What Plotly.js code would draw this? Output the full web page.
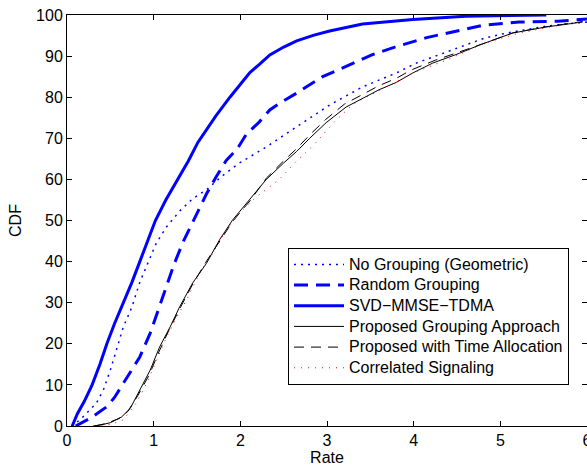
<!DOCTYPE html>
<html>
<head>
<meta charset="utf-8">
<script src="https://cdn.plot.ly/plotly-3.0.1.min.js"></script>
<style>
html,body{margin:0;padding:0;overflow:hidden;background:#fff}
#chart{width:587px;height:466px}
.legendtext{font-size:16px !important}
</style>
</head>
<body>
<div id="chart"></div>
<script>
// Legend names
const seriesNames = ["No Grouping (Geometric)", "Random Grouping", "SVD\u2212MMSE\u2212TDMA",
  "Proposed Grouping Approach", "Proposed with Time Allocation", "Correlated Signaling"];

// No Grouping (Geometric)
const noGroupRate = [0.05,0.15,0.23,0.34,0.42,0.50,0.57,0.65,0.75,0.84,0.94,1.03,1.15,1.30,1.45,1.61,1.80,1.99,2.19,2.30,2.65,3.03,3.41,3.80,4.03,4.22,4.60,4.82,5.07,5.30,5.53,5.76,6.0];
const noGroupCdf  = [0,1.5,3.2,5.6,8.8,13.6,18.5,24.1,29,35,40,44.5,48.5,52.3,55.3,57.5,61,64,66.5,67.9,72.8,78.1,82.5,85.9,88.3,89.8,92.8,94.4,95.6,96.4,97.3,97.8,98.3];

// Random Grouping
const randomRate = [0.1,0.2,0.27,0.36,0.46,0.55,0.64,0.75,0.84,0.96,1.05,1.15,1.24,1.34,1.45,1.55,1.61,1.72,1.84,1.96,2.07,2.22,2.34,2.45,2.65,2.95,3.22,3.53,3.80,4.15,4.80,5.22,5.66,6.0];
const randomCdf  = [0,1,1.9,3.2,4.7,7,10,13.5,16.8,22.6,28.2,33.9,39.6,44.8,49.6,54.3,56.5,60.6,64.7,67.3,71,74,76.9,78.5,81,85,87.6,90.4,92.3,94.5,97.5,98.3,98.5,99];

// SVD-MMSE-TDMA
const svdRate = [0.06,0.12,0.2,0.29,0.38,0.46,0.55,0.65,0.75,0.84,0.93,1.02,1.14,1.28,1.40,1.51,1.62,1.72,1.88,2.0,2.11,2.22,2.34,2.5,2.65,2.85,3.03,3.41,3.99,4.6,5.0,5.53];
const svdCdf  = [0,3,6,10,15,20,25,30,35,40,45,50,55,60,64.5,69,72.5,75.5,80,83,86,88,90.3,92.2,93.7,95.1,96.1,97.8,98.9,99.7,99.9,100];

// Proposed Grouping Approach
const propRate = [0.3,0.4,0.5,0.63,0.73,0.84,0.96,1.07,1.19,1.30,1.45,1.61,1.76,1.91,2.11,2.3,2.5,2.65,2.8,2.99,3.22,3.41,3.6,3.8,3.99,4.22,4.53,4.76,5.14,5.53,5.95];
const propCdf  = [0,0.3,0.8,2.2,4.3,8.8,13.6,19.3,24.1,29,34.8,39.6,45.3,50.1,55.2,60,64,66.8,70,73.8,77.6,79.6,81.8,83.6,85.9,88.3,90.7,92.7,95.6,97.1,98.3];

// Proposed with Time Allocation
const timeRate = [0.32,0.45,0.6,0.7,0.82,0.95,1.06,1.18,1.3,1.45,1.6,1.76,1.92,2.12,2.3,2.5,2.65,2.8,2.98,3.2,3.4,3.6,3.8,3.98,4.25,4.55,4.8,5.15,5.55,5.95];
const timeCdf  = [0,0.6,1.8,3.5,7.5,12.5,18,23.5,28.5,34.5,39.8,45,50,55,60.3,64.5,67.5,70.8,74.5,78.3,80.6,82.8,84.6,86.7,89,91.1,93,95.7,97.2,98.4];

// Correlated Signaling
const corrRate = [0.4,0.52,0.65,0.8,0.92,1.03,1.15,1.27,1.38,1.53,1.68,1.84,1.99,2.17,2.26,2.45,2.65,2.83,3.0,3.11,3.3,3.64,4.0,4.4,4.8,5.2,5.6,5.95];
const corrCdf  = [0,0.5,1.5,5.6,10.4,16,21.7,26.6,30.7,37.2,42,47.7,51.8,55.5,57,60,64.5,68,72,74.5,78.3,82,86,89.2,93,95.5,97.2,98.4];

const xTicks = [0,1,2,3,4,5,6];
const yTicks = [0,10,20,30,40,50,60,70,80,90,100];

const traces = [
  {x: noGroupRate, y: noGroupCdf, name: seriesNames[0], line: {color: '#0000ff', width: 1.5, dash: '2px,5px'}},
  {x: randomRate, y: randomCdf, name: seriesNames[1], line: {color: '#0000ff', width: 3, dash: '14px,8px'}},
  {x: svdRate, y: svdCdf, name: seriesNames[2], line: {color: '#0000ff', width: 3}},
  {x: propRate, y: propCdf, name: seriesNames[3], line: {color: '#000000', width: 1}},
  {x: timeRate, y: timeCdf, name: seriesNames[4], line: {color: '#000000', width: 1, dash: '10px,7px'}},
  {x: corrRate, y: corrCdf, name: seriesNames[5], line: {color: '#ff0000', width: 1, dash: '1px,6px'}}
].map(t => Object.assign({type: 'scatter', mode: 'lines', hoverinfo: 'skip'}, t));

const FONT = 'Liberation Sans, Arial, sans-serif';
const axisCommon = {
  showgrid: false, zeroline: false, showline: true, linecolor: '#000', linewidth: 1,
  mirror: 'ticks', ticks: 'inside', ticklen: 5, tickwidth: 1, tickcolor: '#000',
  tickfont: {family: FONT, size: 16, color: '#000'}
};

const layout = {
  width: 587, height: 466,
  margin: {l: 67, r: 0, t: 15, b: 40},
  paper_bgcolor: '#fff', plot_bgcolor: '#fff',
  font: {family: FONT, size: 16, color: '#000'},
  xaxis: Object.assign({}, axisCommon, {
    range: [0, 6], tickvals: xTicks, ticktext: xTicks.map(String),
    ticklabeloverflow: 'allow',
    title: {text: 'Rate', font: {size: 16}, standoff: 4}
  }),
  yaxis: Object.assign({}, axisCommon, {
    range: [0, 100], tickvals: yTicks, ticktext: yTicks.map(String),
    title: {text: 'CDF', font: {size: 16}, standoff: 10}
  }),
  showlegend: true,
  legend: {
    x: 0.425, y: 0.433, xanchor: 'left', yanchor: 'top',
    bgcolor: '#fff', bordercolor: '#000', borderwidth: 1,
    font: {family: FONT, size: 13.6, color: '#000'}, itemwidth: 50, tracegroupgap: 0
  }
};

Plotly.newPlot('chart', traces, layout, {staticPlot: true, displayModeBar: false});
</script>
</body>
</html>
